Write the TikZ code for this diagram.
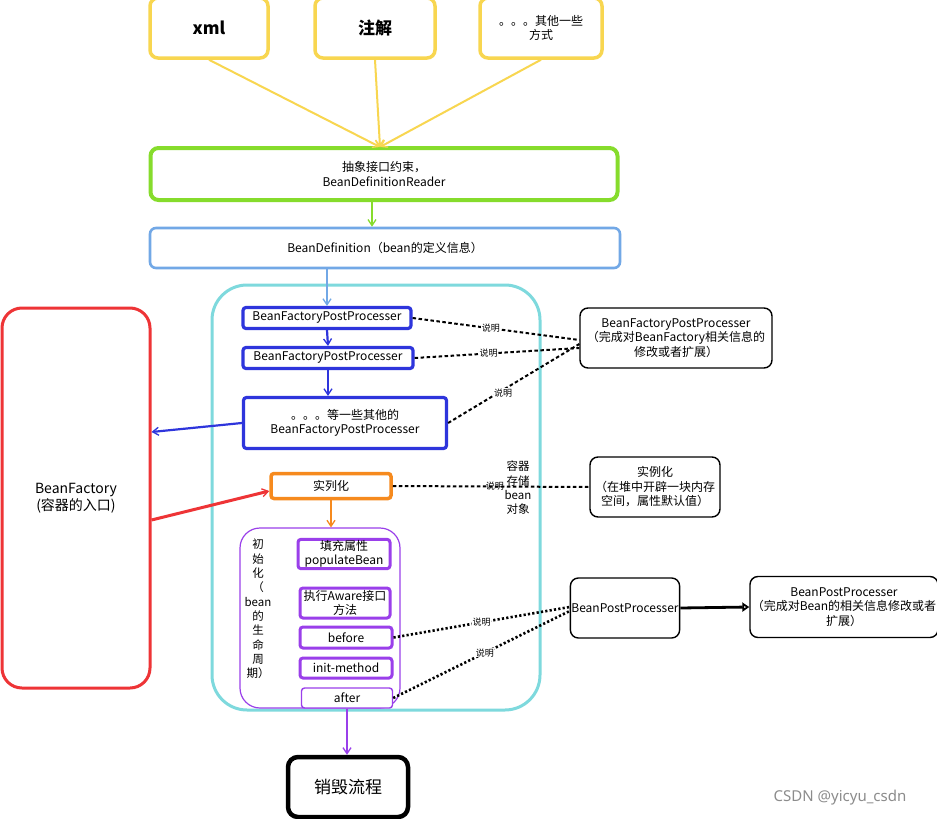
\documentclass[tikz,border=0pt]{standalone}
\usepackage{fontspec}
\setmainfont{Noto Sans CJK SC}
\newfontfamily\wmfont{Noto Sans}
\usetikzlibrary{arrows.meta,calc}
\definecolor{cyel}{HTML}{F8D650}
\definecolor{cgreen}{HTML}{86DC2C}
\definecolor{clblue}{HTML}{72A8E6}
\definecolor{ccyan}{HTML}{7ED9DD}
\definecolor{cblue}{HTML}{2E35DC}
\definecolor{cred}{HTML}{EE3436}
\definecolor{corange}{HTML}{F68A1E}
\definecolor{cpurple}{HTML}{9A3FEA}
\begin{document}
\begin{tikzpicture}[x=1pt,y=-1pt,
  box/.style={draw, rounded corners=6pt, fill=white, align=center, inner sep=1pt,
    font=\fontsize{12}{14.5}\selectfont},
  ybox/.style={box, draw=cyel, line width=3.5pt, rounded corners=8pt},
  bbox/.style={box, draw=cblue, line width=3.2pt, rounded corners=3pt},
  pbox/.style={box, draw=cpurple, line width=3pt, rounded corners=3pt},
  kbox/.style={box, draw=black, line width=1.4pt, rounded corners=8pt},
  tip/.style={-{Straight Barb[length=6pt,width=8pt,line width=1.3pt]}},
  dline/.style={draw=black, line width=2pt, dash pattern=on 3.5pt off 2.5pt},
  pline/.style={draw=black, line width=2.6pt, dash pattern=on 2.2pt off 2.2pt},
  lbl/.style={font=\fontsize{9}{10}\selectfont, inner sep=0.5pt, fill=white},
]
\useasboundingbox (0,0) rectangle (937,819);
\fill[white] (0,0) rectangle (937,819);

% top sources
\node[ybox, minimum width=118, minimum height=60, font=\fontsize{17}{20}\selectfont\bfseries] (xml) at (209,28) {xml};
\node[ybox, minimum width=120, minimum height=60, font=\fontsize{17}{20}\selectfont\bfseries] (zj) at (375,28) {注解};
\node[ybox, minimum width=122, minimum height=60] (oth) at (541,28) {。。。其他一些\\方式};

\node[box, draw=cgreen, line width=4pt, rounded corners=8pt, minimum width=467, minimum height=52] (green) at (384,174) {抽象接口约束，\\BeanDefinitionReader};
\node[box, draw=clblue, line width=2.6pt, minimum width=470, minimum height=40] (bd) at (385,248) {BeanDefinition（bean的定义信息）};

\coordinate (yt) at (380,147);
\draw[cyel, line width=2pt, tip] (xml.south) -- (yt);
\draw[cyel, line width=2pt, tip] (zj.south) -- (yt);
\draw[cyel, line width=2pt, tip] (oth.south) -- (yt);
\draw[cgreen, line width=2pt, tip] ($(green.south)+(-12,0)$) -- ($(bd.north)+(-13,0)$);

% container
\node[draw=ccyan, line width=3pt, rounded corners=35pt, minimum width=328, minimum height=425] (cont) at (376,497.5) {};

% BeanFactory
\node[box, draw=cred, line width=3pt, rounded corners=20pt, minimum width=148, minimum height=380, font=\fontsize{14}{17}\selectfont] (bf) at (76,498) {BeanFactory\\(容器的入口)};

% post processors
\node[bbox, minimum width=168, minimum height=21] (bfpp1) at (327,318) {BeanFactoryPostProcesser};
\node[bbox, minimum width=170, minimum height=21] (bfpp2) at (328,358) {BeanFactoryPostProcesser};
\node[bbox, minimum width=203, minimum height=51] (bfpp3) at (345,423) {。。。等一些其他的\\BeanFactoryPostProcesser};

\draw[clblue, line width=2pt, tip] (bfpp1.north |- bd.south) -- (bfpp1.north);
\draw[cblue, line width=2.2pt, tip] (bfpp1.south) -- (bfpp2.north);
\draw[cblue, line width=2.2pt, tip] (bfpp2.south) -- (bfpp2.south |- bfpp3.north);
\draw[cblue, line width=2.2pt, tip] (bfpp3.west) -- ($(bf.east)+(0,-66)$);

% instantiate
\node[box, draw=corange, line width=3.5pt, rounded corners=3pt, minimum width=120, minimum height=25] (sl) at (331,486) {实列化};
\draw[cred, line width=3pt, tip] ($(bf.east)+(0,22)$) -- ($(sl.west)+(0,5)$);

% init container
\node[draw=cpurple, line width=1.2pt, rounded corners=20pt, minimum width=160, minimum height=180] (pc) at (320,618) {};
\draw[corange, line width=2pt, tip] (sl.south) -- (sl.south |- pc.north);
\node[align=center, font=\fontsize{11.5}{14.3}\selectfont, inner sep=0pt] (vt) at (258,609) {初\\始\\化\\（\\bean\\的\\生\\命\\周\\期）};

\node[pbox, minimum width=92, minimum height=28] (pop) at (344,554) {填充属性\\populateBean};
\node[pbox, minimum width=90, minimum height=30] (aw) at (345,603) {执行Aware接口\\方法};
\node[pbox, minimum width=92, minimum height=21] (bef) at (346,637.5) {before};
\node[pbox, minimum width=92, minimum height=20] (ini) at (346,668) {init-method};
\node[box, draw=cpurple, line width=1.4pt, rounded corners=3pt, minimum width=91, minimum height=20] (aft) at (347,698) {after};

% destroy
\node[box, draw=black, line width=4.5pt, rounded corners=10pt, minimum width=120, minimum height=60, font=\fontsize{17}{20}\selectfont] (des) at (348,787) {销毁流程};
\draw[cpurple, line width=2.2pt, tip] (aft.south) -- (aft.south |- des.north);

% description boxes
\node[kbox, minimum width=192, minimum height=60] (bfd) at (676,338) {BeanFactoryPostProcesser\\（完成对BeanFactory相关信息的\\修改或者扩展）};
\node[kbox, minimum width=130, minimum height=60] (sld) at (655,487) {实例化\\（在堆中开辟一块内存\\空间，属性默认值）};
\node[kbox, minimum width=102, minimum height=60] (bpp) at (625,608) {BeanPostProcesser};
\node[kbox, minimum width=188, minimum height=61] (bppd) at (844,607) {BeanPostProcesser\\（完成对Bean的相关信息修改或者\\扩展）};
\draw[black, line width=2.8pt, -{Triangle[open, length=7pt, width=9pt]}] (bpp.east) -- (bppd.west);

% dashed explanations
\draw[dline] (bfpp1.east) -- node[lbl, pos=0.47] {说明} ($(bfd.west)+(0,2)$);
\draw[dline] (bfpp2.east) -- node[lbl, pos=0.45] {说明} ($(bfd.west)+(0,10)$);
\draw[dline] (bfpp3.east) -- node[lbl, pos=0.42, yshift=-3] {说明} ($(bfd.west)+(0,6)$);

\node[align=center, font=\fontsize{11.5}{14.3}\selectfont, inner sep=0pt] (cb) at (518,488) {容器\\存储\\bean\\对象};
\draw[dline] (sl.east) -- node[font=\fontsize{9}{10}\selectfont, inner sep=0pt, pos=0.52] {说明} (sld.west);

\draw[pline] (bef.east) -- node[lbl, pos=0.5] {说明} ($(bpp.west)+(0,-1)$);
\draw[pline] (aft.east) -- node[lbl, pos=0.52] {说明} ($(bpp.west)+(0,3)$);

% watermark
\node[font=\wmfont\fontsize{15}{18}\selectfont, text=black!45] (wm) at (840,798) {CSDN @yicyu\_csdn};
\end{tikzpicture}
\end{document}
